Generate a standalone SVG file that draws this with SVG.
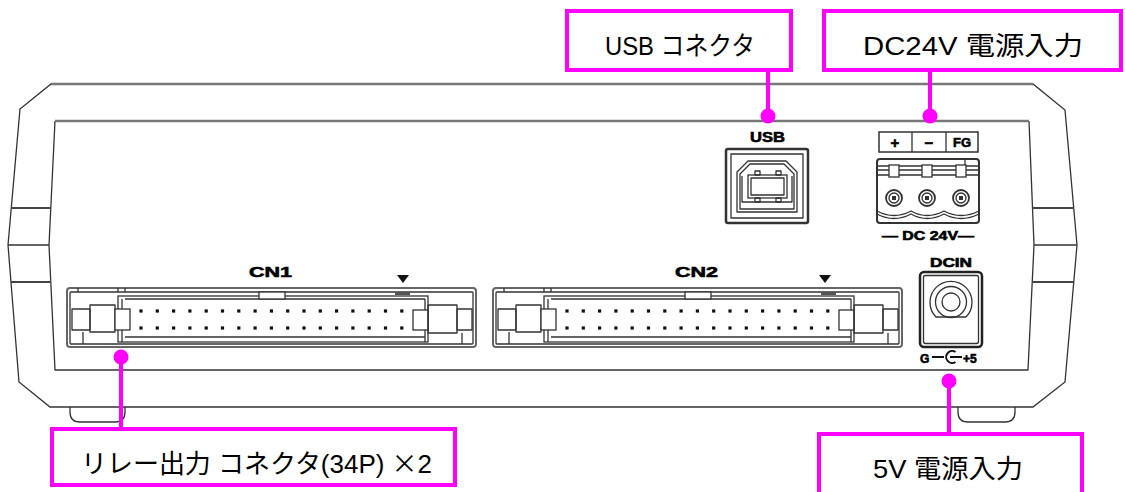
<svg xmlns="http://www.w3.org/2000/svg" xmlns:xlink="http://www.w3.org/1999/xlink" width="1125" height="492" viewBox="0 0 1125 492">
<style>
.ln{fill:none;stroke:#333;stroke-width:1.3;stroke-linejoin:round}
.lw{fill:#fff;stroke:#333;stroke-width:1.3}
.thk{fill:none;stroke:#777;stroke-width:2.6}
.pk{fill:none;stroke:#FF00FF;stroke-width:4}
.pkl{fill:none;stroke:#FF00FF;stroke-width:4}
.dot{fill:#FF00FF}
.lbl{font-family:"Liberation Sans","Noto Sans CJK JP",sans-serif;font-size:26px;fill:#000}
.cjk{font-family:"Noto Sans CJK JP",sans-serif}
.bd{font-family:"Liberation Sans",Arial,sans-serif;font-weight:bold;fill:#000;stroke:#000;stroke-width:0.6}
</style>
<defs>
<g id="cn">
<rect x="0" y="0" width="409" height="59" rx="3" fill="#fff" stroke="#666" stroke-width="2"/>
<rect x="3" y="4" width="403" height="52" rx="1" class="ln"/>
<path class="ln" d="M11 0V4M51 0V4M58 0V4"/>
<rect x="5" y="21" width="18" height="21" class="ln"/>
<rect x="23" y="17" width="25" height="27" class="ln"/>
<path class="ln" d="M16 44V56"/>
<rect x="51" y="8" width="310" height="46" class="lw"/>
<path class="ln" d="M58 11H358M58 49H358M55 11V54M358 11V54"/>
<rect x="48" y="21" width="15" height="21" class="lw"/>
<rect x="346" y="22" width="15" height="20" class="lw"/>
<rect x="361" y="17" width="29" height="28" class="ln"/>
<rect x="390" y="21" width="15" height="21" class="ln"/>
<path class="ln" d="M395 45V56"/>
<rect x="192" y="4" width="26" height="7" class="lw"/>
<rect x="328" y="4" width="15" height="3" fill="#555"/>
<g fill="#111">
<rect x="72.4" y="21.4" width="3.2" height="3.2"/><rect x="88.7" y="21.4" width="3.2" height="3.2"/><rect x="105" y="21.4" width="3.2" height="3.2"/><rect x="121.3" y="21.4" width="3.2" height="3.2"/><rect x="137.6" y="21.4" width="3.2" height="3.2"/><rect x="153.9" y="21.4" width="3.2" height="3.2"/><rect x="170.2" y="21.4" width="3.2" height="3.2"/><rect x="186.5" y="21.4" width="3.2" height="3.2"/><rect x="202.8" y="21.4" width="3.2" height="3.2"/><rect x="219.1" y="21.4" width="3.2" height="3.2"/><rect x="235.4" y="21.4" width="3.2" height="3.2"/><rect x="251.7" y="21.4" width="3.2" height="3.2"/><rect x="268" y="21.4" width="3.2" height="3.2"/><rect x="284.3" y="21.4" width="3.2" height="3.2"/><rect x="300.6" y="21.4" width="3.2" height="3.2"/><rect x="316.9" y="21.4" width="3.2" height="3.2"/><rect x="333.2" y="21.4" width="3.2" height="3.2"/>
<rect x="72.4" y="38.4" width="3.2" height="3.2"/><rect x="88.7" y="38.4" width="3.2" height="3.2"/><rect x="105" y="38.4" width="3.2" height="3.2"/><rect x="121.3" y="38.4" width="3.2" height="3.2"/><rect x="137.6" y="38.4" width="3.2" height="3.2"/><rect x="153.9" y="38.4" width="3.2" height="3.2"/><rect x="170.2" y="38.4" width="3.2" height="3.2"/><rect x="186.5" y="38.4" width="3.2" height="3.2"/><rect x="202.8" y="38.4" width="3.2" height="3.2"/><rect x="219.1" y="38.4" width="3.2" height="3.2"/><rect x="235.4" y="38.4" width="3.2" height="3.2"/><rect x="251.7" y="38.4" width="3.2" height="3.2"/><rect x="268" y="38.4" width="3.2" height="3.2"/><rect x="284.3" y="38.4" width="3.2" height="3.2"/><rect x="300.6" y="38.4" width="3.2" height="3.2"/><rect x="316.9" y="38.4" width="3.2" height="3.2"/><rect x="333.2" y="38.4" width="3.2" height="3.2"/>
</g>
</g>
</defs>

<g id="chassis">
<path class="ln" d="M70 407V412Q70 422 80 422H115Q125 422 125 412V407"/>
<path class="ln" d="M958 407V412Q958 422 968 422H1005Q1015 422 1015 412V407"/>
<path class="lw" d="M51 84H1033L1065 110L1077 245L1065 382L1033 407H50L19 382L8 245L20 109Z"/>
<path class="ln" d="M55 121L49 245L55 370H1028L1034 245L1029 121"/>
<path class="thk" d="M51 84H1033M55 121H1029"/>
<path fill="none" stroke="#444" stroke-width="2" d="M11.3 208H50.8M11 282H50.8M1032.5 208H1073.7M1032.2 282H1073.8"/>
<path class="ln" d="M8 245H49M1034 245H1077"/>
</g>

<g id="usb">
<text class="bd" x="750" y="142" font-size="14" textLength="35" lengthAdjust="spacingAndGlyphs">USB</text>
<rect x="726" y="149" width="82" height="74" rx="2" fill="#fff" stroke="#333" stroke-width="2.5"/>
<rect x="731" y="154" width="72" height="64" class="ln"/>
<path class="ln" d="M748 161H786L797 172V212H737V172Z"/>
<path class="ln" d="M750 164H784L794 174V209H740V174Z"/>
<path class="ln" d="M742 176V202H792V176"/>
<rect x="748" y="175" width="39" height="23" class="lw"/>
<rect x="751" y="178" width="33" height="17" class="ln"/>
<rect x="755" y="171" width="5" height="4" class="ln"/>
<rect x="776" y="171" width="5" height="4" class="ln"/>
<rect x="755" y="198" width="5" height="4" class="ln"/>
<rect x="776" y="198" width="5" height="4" class="ln"/>
</g>

<g id="dc-terminal">
<rect x="879" y="132" width="99" height="20" fill="#fff" stroke="#333" stroke-width="1.5"/>
<path class="ln" d="M912 132V152M946 132V152"/>
<text class="bd" x="895" y="147.5" font-size="15" text-anchor="middle">+</text>
<text class="bd" x="929" y="147.5" font-size="15" text-anchor="middle">−</text>
<text class="bd" x="962" y="147" font-size="13" text-anchor="middle">FG</text>
<rect x="877" y="159" width="102" height="64" rx="3" fill="#fff" stroke="#333" stroke-width="2"/>
<path class="ln" d="M877 166H979M877 170H979M877 175H979M965 159V166"/>
<rect x="889" y="165" width="10" height="12" class="lw"/>
<rect x="922" y="165" width="10" height="12" class="lw"/>
<rect x="956" y="165" width="10" height="12" class="lw"/>
<circle cx="894" cy="198" r="8" fill="#fff" stroke="#333" stroke-width="1.8"/>
<circle cx="927" cy="198" r="8" fill="#fff" stroke="#333" stroke-width="1.8"/>
<circle cx="961" cy="198" r="8" fill="#fff" stroke="#333" stroke-width="1.8"/>
<circle cx="894" cy="198" r="5" class="ln"/>
<circle cx="927" cy="198" r="5" class="ln"/>
<circle cx="961" cy="198" r="5" class="ln"/>
<rect x="892" y="196" width="4" height="4" fill="#333"/>
<rect x="925" y="196" width="4" height="4" fill="#333"/>
<rect x="959" y="196" width="4" height="4" fill="#333"/>
<path class="ln" d="M877 211Q894 220 911 211Q927 220 944 211Q961 220 979 211"/>
<path class="ln" d="M877 214Q894 223 911 214Q927 223 944 214Q961 223 979 214"/>
<text class="bd" x="882" y="240" font-size="12" textLength="92" lengthAdjust="spacingAndGlyphs">— DC 24V—</text>
</g>

<g id="dcin">
<text class="bd" x="930" y="267" font-size="12.5" textLength="42" lengthAdjust="spacingAndGlyphs">DCIN</text>
<rect x="920" y="272" width="62" height="75" rx="4" fill="#fff" stroke="#222" stroke-width="2.5"/>
<rect x="923.5" y="275.5" width="55" height="68" rx="2" class="ln"/>
<path class="ln" d="M936 317A21 21 0 1 1 966 317Z"/>
<circle cx="951" cy="302" r="15.5" class="ln"/>
<circle cx="951" cy="302" r="9" class="ln"/>
<text class="bd" x="920" y="362.5" font-size="12">G</text>
<path fill="none" stroke="#111" stroke-width="2" d="M932 357H944M955.5 352A6 6 0 1 0 955.5 362M950 357H962"/>
<text class="bd" x="963" y="362.5" font-size="12">+5</text>
</g>

<g id="cn1">
<use xlink:href="#cn" x="67" y="288"/>
<text class="bd" x="249" y="277" font-size="15" textLength="43" lengthAdjust="spacingAndGlyphs">CN1</text>
<path d="M397 275H409L403 283Z" fill="#111"/>
</g>

<g id="cn2">
<use xlink:href="#cn" x="493" y="288"/>
<text class="bd" x="675" y="277" font-size="15" textLength="43" lengthAdjust="spacingAndGlyphs">CN2</text>
<path d="M819 275H831L825 283Z" fill="#111"/>
</g>

<g id="label-usb">
<rect x="567" y="11" width="224" height="59" fill="#fff" class="pk"/>
<text class="lbl" x="605" y="55" textLength="150" lengthAdjust="spacingAndGlyphs">USB コネクタ</text>
</g>
<g id="label-dc24v">
<rect x="824" y="11" width="297" height="59" fill="#fff" class="pk"/>
<text class="lbl" x="863" y="55" textLength="220" lengthAdjust="spacingAndGlyphs">DC24V 電源入力</text>
</g>
<g id="label-relay">
<rect x="52" y="429" width="403" height="56" fill="#fff" class="pk"/>
<text class="lbl" x="81" y="473" textLength="351" lengthAdjust="spacingAndGlyphs">リレー出力 コネクタ(34P) <tspan class="cjk">×</tspan>2</text>
</g>
<g id="label-5v">
<rect x="819" y="434" width="263" height="80" fill="#fff" class="pk"/>
<text class="lbl" x="873" y="478" textLength="150" lengthAdjust="spacingAndGlyphs">5V 電源入力</text>
</g>

<g id="connectors">
<path class="pkl" d="M768 70V116M930 70V116M121 357V429M949 381V434"/>
<circle class="dot" cx="768" cy="116" r="7.5"/>
<circle class="dot" cx="930" cy="116" r="7.5"/>
<circle class="dot" cx="121" cy="357" r="7.5"/>
<circle class="dot" cx="949" cy="381" r="7.5"/>
</g>
</svg>
